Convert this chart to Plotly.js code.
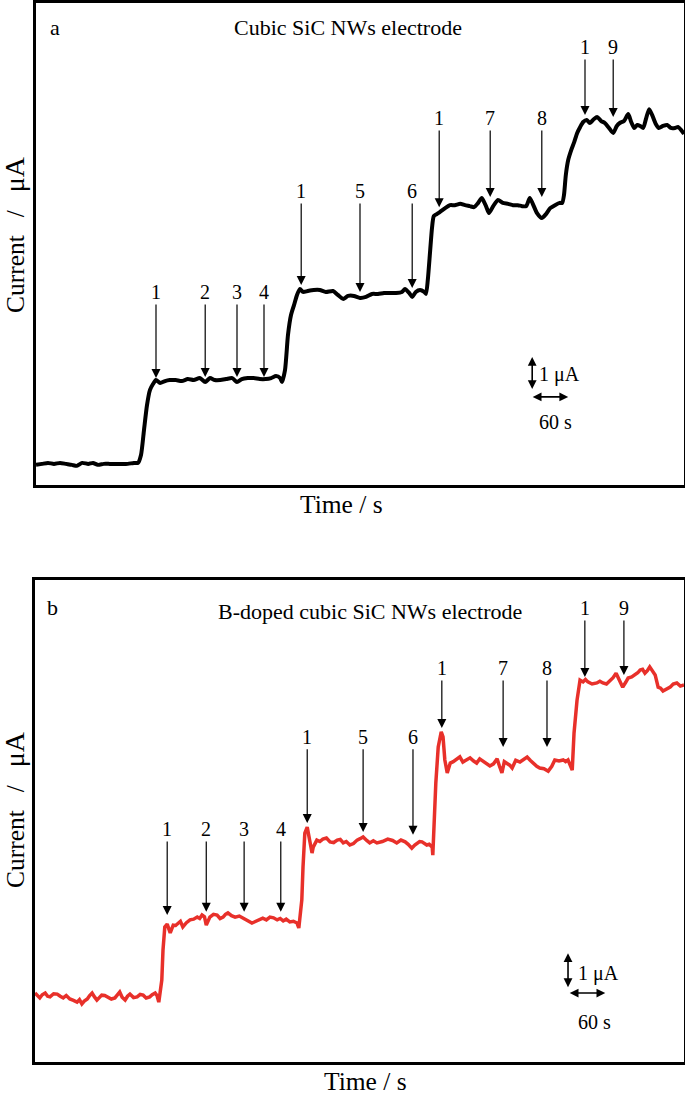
<!DOCTYPE html>
<html>
<head>
<meta charset="utf-8">
<script src="https://cdn.plot.ly/plotly-3.0.1.min.js"></script>
<style>html,body{margin:0;padding:0;background:#fff;}#chart{width:685px;height:1095px;}</style>
</head>
<body>
<div id="chart"></div>
<script>
// ---------- DATA (time in s, current in µA) ----------
const timeA = [0,10,20,30,40,50,60,68,77,87,95,103,113,123,133,143,153,163,170,175,180,185,190,195,200,207,215,223,233,243,253,263,273,282,290,298,307,317,327,335,343,353,363,373,383,392,400,407,410,415,420,425,430,435,440,445,453,463,473,483,495,503,512,520,530,540,550,560,570,580,590,600,610,615,622,627,633,640,647,650,653,657,660,663,668,673,682,690,698,707,715,723,730,737,743,750,755,762,770,778,787,795,803,810,817,823,828,835,843,850,857,865,873,877,880,883,887,892,897,902,907,912,918,923,930,935,942,948,955,962,968,973,980,987,992,997,1002,1007,1012,1017,1022,1027,1033,1038,1045,1052,1058,1065,1070,1075,1080];
const currentA = [0.61,0.64,0.67,0.64,0.67,0.64,0.61,0.58,0.67,0.64,0.67,0.61,0.64,0.64,0.64,0.64,0.64,0.67,0.67,0.91,1.67,2.42,2.88,3.06,3.18,3.09,3.15,3.18,3.18,3.15,3.21,3.18,3.24,3.12,3.24,3.18,3.18,3.21,3.24,3.12,3.21,3.24,3.24,3.21,3.21,3.24,3.30,3.24,3.12,3.48,4.55,5.15,5.45,5.76,5.94,5.85,5.88,5.91,5.91,5.85,5.88,5.76,5.64,5.73,5.73,5.67,5.70,5.79,5.79,5.82,5.82,5.82,5.85,5.94,5.82,5.70,5.85,5.91,5.85,5.79,6.21,7.12,7.79,8.15,8.21,8.27,8.39,8.48,8.48,8.52,8.48,8.45,8.42,8.55,8.70,8.45,8.24,8.45,8.64,8.55,8.52,8.48,8.48,8.45,8.45,8.70,8.52,8.24,8.09,8.21,8.39,8.48,8.55,8.55,8.79,9.39,9.85,10.15,10.39,10.67,10.85,11.00,11.06,10.97,11.09,11.15,11.03,10.97,10.82,10.67,10.88,10.97,11.03,11.24,11.00,10.82,10.91,10.88,10.82,11.12,11.39,11.21,10.94,10.82,10.88,10.91,10.82,10.82,10.85,10.76,10.64];

const timeB = [0,4,8,12,17,21,25,31,37,42,47,52,58,64,70,74,78,82,87,91,95,99,103,107,111,116,121,127,133,137,141,145,150,154,158,164,170,175,180,185,191,195,200,203,206,
  211,213,216,220,225,230,234,238,242,246,252,258,264,270,274,278,282,285,288,291,297,303,308,313,317,321,327,333,340,346,353,361,365,369,374,379,385,391,397,403,408,413,418,424,430,436,439,
  444,446,449,453,456,461,463,469,474,479,485,491,497,503,508,513,518,524,530,536,541,546,552,557,563,569,578,587,595,602,609,616,621,627,632,636,640,644,648,652,656,661,662,
  667,671,676,679,682,686,691,696,702,707,712,718,724,730,735,740,745,751,757,763,769,773,777,781,785,790,794,800,807,813,819,824,829,835,840,847,854,860,865,872,879,883,887,894,
  897,902,907,912,916,920,927,935,940,945,951,957,962,967,973,978,983,987,993,998,1003,1007,1011,1015,1019,1023,1027,1032,1037,1041,1045,1051,1057,1062,1068,1074,1080];
const currentB = [1.97,1.90,1.83,1.92,1.97,1.88,1.86,1.95,1.94,1.88,1.83,1.90,1.80,1.76,1.71,1.78,1.66,1.74,1.80,1.90,1.97,1.86,1.77,1.84,1.91,1.90,1.86,1.80,1.83,1.92,2.00,1.85,1.77,1.88,1.94,1.84,1.86,1.93,1.91,1.83,1.86,1.92,1.97,1.90,1.71,
  2.34,3.20,3.86,3.94,3.69,3.91,3.90,3.97,4.02,3.86,3.98,4.06,4.08,4.14,4.10,4.20,4.15,3.91,4.02,4.14,4.22,4.20,4.10,4.14,4.22,4.26,4.18,4.14,4.17,4.11,4.05,3.97,4.00,4.03,4.08,4.11,4.06,4.14,4.12,4.06,4.10,4.03,4.08,4.00,4.02,3.97,3.83,
  4.63,5.57,6.54,6.71,6.43,5.97,6.14,6.34,6.30,6.37,6.40,6.29,6.27,6.34,6.36,6.26,6.30,6.20,6.24,6.34,6.38,6.43,6.33,6.26,6.32,6.26,6.30,6.37,6.33,6.26,6.34,6.29,6.22,6.11,6.20,6.26,6.30,6.29,6.25,6.20,6.22,6.14,5.91,
  7.97,9.00,9.43,9.29,8.63,8.26,8.54,8.58,8.66,8.72,8.57,8.62,8.69,8.60,8.54,8.66,8.60,8.55,8.46,8.52,8.66,8.45,8.26,8.58,8.54,8.48,8.40,8.62,8.57,8.63,8.71,8.62,8.54,8.45,8.40,8.38,8.31,8.45,8.63,8.60,8.63,8.58,8.63,8.34,
  9.40,10.34,10.91,10.86,10.93,10.86,10.80,10.83,10.88,10.83,10.80,10.91,10.98,11.11,10.86,10.71,10.85,10.97,11.00,11.06,11.12,11.20,11.22,11.11,11.18,11.29,11.20,11.06,10.71,10.68,10.60,10.66,10.71,10.80,10.83,10.74,10.77];

// injection arrows: time, label, current at the arrow tip, current level of the label
const arrowTimeA  = [200,282,335,380, 442,540,627, 672,757,843, 915,962];
const arrowLabelA = ['1','2','3','4','1','5','6','1','7','8','1','9'];
const arrowTipA   = [3.24,3.27,3.27,3.27, 6.06,5.85,5.97, 8.42,8.73,8.73, 11.21,11.15];
const labelLevelA = [5.85,5.85,5.85,5.85, 8.91,8.91,8.91, 11.12,11.12,11.12, 13.27,13.27];

const arrowTimeB  = [220,285,348,409, 453,546,629, 677,779,852, 915,980];
const arrowLabelB = ['1','2','3','4','1','5','6','1','7','8','1','9'];
const arrowTipB   = [4.20,4.29,4.29,4.29, 6.83,6.57,6.49, 9.54,9.00,9.00, 11.00,11.06];
const labelLevelB = [6.66,6.66,6.66,6.66, 9.29,9.29,9.29, 11.26,11.26,11.26, 12.97,12.97];

const scaleCurrent = 1;   // µA
const scaleTime = 60;     // s

// ---------- LAYOUT ----------
const W = 685, H = 1095;
const px = v => v / W;
const py = v => 1 - v / H;
const FONT = 'Liberation Serif, Times New Roman, serif';

const axisBase = {
  showline: true, mirror: true, linecolor: '#000', linewidth: 3,
  showgrid: false, zeroline: false, showticklabels: false, ticks: '',
  fixedrange: true
};

const traces = [
  {x: timeA, y: currentA, xaxis: 'x', yaxis: 'y', type: 'scatter', mode: 'lines',
   line: {color: '#000', width: 4, shape: 'spline', smoothing: 0.6}, hoverinfo: 'skip'},
  {x: timeB, y: currentB, xaxis: 'x2', yaxis: 'y2', type: 'scatter', mode: 'lines',
   line: {color: '#e8302a', width: 3.5}, hoverinfo: 'skip'}
];

const yTitle = 'Current\u2002\u2009/\u2002\u2009<span style="font-size:28px">μA</span>';

const ann = [];
function txt(text, x, y, size, extra) {
  ann.push(Object.assign({text, x, y, xref: 'paper', yref: 'paper', showarrow: false,
    xanchor: 'center', yanchor: 'middle',
    font: {family: FONT, size, color: '#000'}}, extra || {}));
}
txt('a', px(55), py(27), 22);
txt('Cubic SiC NWs electrode', px(348), py(27), 22);
txt(yTitle, px(14), py(235), 25.5, {textangle: -90});
txt('Time / s', px(341), py(505), 25.5);
txt('b', px(52), py(607), 22);
txt('B-doped cubic SiC NWs electrode', px(370), py(611), 22);
txt(yTitle, px(14), py(810), 25.5, {textangle: -90});
txt('Time / s', px(366), py(1081), 25.5);
txt(scaleCurrent + ' μA', px(537), py(374), 20, {xanchor: 'left'});
txt(scaleTime + ' s', px(555), py(422), 20);
txt(scaleCurrent + ' μA', px(576), py(973), 20, {xanchor: 'left'});
txt(scaleTime + ' s', px(594), py(1022), 20);

function addArrows(times, labels, tips, levels, xa, ya) {
  times.forEach((t, i) => {
    ann.push({x: t, y: tips[i], ax: t, ay: levels[i], xref: xa, yref: ya, axref: xa, ayref: ya,
      text: labels[i], showarrow: true, arrowhead: 2, arrowsize: 1.5, arrowwidth: 1.2,
      arrowcolor: '#000', standoff: 0, font: {family: FONT, size: 20, color: '#000'}});
  });
}
addArrows(arrowTimeA, arrowLabelA, arrowTipA, labelLevelA, 'x', 'y');
addArrows(arrowTimeB, arrowLabelB, arrowTipB, labelLevelB, 'x2', 'y2');

function scaleBar(xa, ya, t0, i0, tH0, iH) {
  const common = {xref: xa, yref: ya, axref: xa, ayref: ya, text: ' ', showarrow: true,
    arrowside: 'end+start', arrowhead: 2, startarrowhead: 2, arrowsize: 1.1, startarrowsize: 1.1,
    arrowwidth: 1.6, arrowcolor: '#000', standoff: 0, startstandoff: 0, borderpad: 0,
    font: {size: 1}};
  ann.push(Object.assign({x: t0, y: i0 + scaleCurrent, ax: t0, ay: i0}, common));
  ann.push(Object.assign({x: tH0 + scaleTime, y: iH, ax: tH0, ay: iH}, common));
}
scaleBar('x', 'y', 827, 2.88, 827, 2.67);
scaleBar('x2', 'y2', 887, 2.11, 889, 1.97);

const layout = {
  width: W, height: H, margin: {l: 0, r: 0, t: 0, b: 0},
  paper_bgcolor: '#fff', plot_bgcolor: '#fff', showlegend: false,
  font: {family: FONT, color: '#000'},
  xaxis: Object.assign({}, axisBase, {domain: [px(36), px(684)], range: [0, 1080], anchor: 'y'}),
  yaxis: Object.assign({}, axisBase, {domain: [py(485), py(3)], range: [0, 482 / 33], anchor: 'x'}),
  xaxis2: Object.assign({}, axisBase, {domain: [px(35), px(684)], range: [0, 1080], anchor: 'y2'}),
  yaxis2: Object.assign({}, axisBase, {domain: [py(1062), py(580)], range: [0, 482 / 35], anchor: 'x2'}),
  annotations: ann
};

Plotly.newPlot('chart', traces, layout, {displayModeBar: false, staticPlot: true});
</script>
</body>
</html>
